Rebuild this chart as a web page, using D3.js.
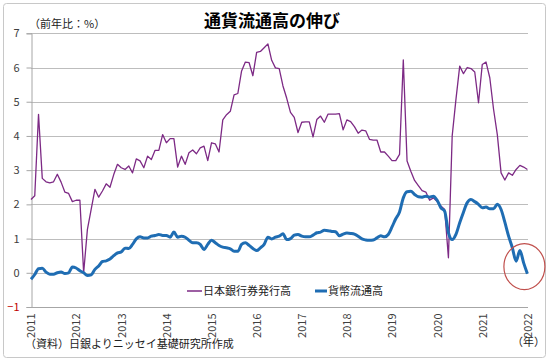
<!DOCTYPE html>
<html><head><meta charset="utf-8">
<script src="https://cdn.jsdelivr.net/npm/d3@7"></script>
<style>
html,body{margin:0;padding:0;background:#fff;}
svg{display:block;}
text{font-family:"Noto Sans CJK JP","Noto Sans",sans-serif;}
</style></head>
<body>
<svg id="c" width="550" height="362"></svg>
<script>
// Monthly series, Jan 2011 .. Jan 2022 (year-on-year %)
const yearLabels = ["2011","2012","2013","2014","2015","2016","2017","2018","2019","2020","2021","2022"];
const yTicks = [-1,0,1,2,3,4,5,6,7];
const seriesNames = ["日本銀行券発行高","貨幣流通高"];
const banknotes = [
 2.14,2.25,4.63,2.76,2.66,2.63,2.66,2.88,2.65,2.36,2.32,2.08,
 2.12,2.12,0.00,1.27,1.85,2.44,2.21,2.39,2.60,2.50,2.87,3.17,
 3.07,3.02,3.12,2.92,3.33,3.27,3.07,3.41,3.31,3.58,3.58,4.04,
 3.80,3.92,3.92,3.09,3.41,3.17,3.51,3.59,3.48,3.65,3.70,3.28,
 3.80,3.77,3.53,4.47,4.62,4.72,5.20,5.24,5.90,6.16,6.14,5.76,
 6.44,6.47,6.58,6.69,6.21,5.99,5.97,5.46,5.10,4.69,4.54,4.10,
 4.40,4.41,4.41,3.97,4.48,4.58,4.40,4.64,4.64,4.64,4.65,4.18,
 4.47,4.42,4.27,4.08,4.17,4.15,3.90,3.88,3.88,3.53,3.53,3.41,
 3.28,3.28,3.46,6.22,3.27,2.97,2.70,2.55,2.40,2.36,2.12,2.19,
 2.08,1.95,1.85,0.44,4.00,5.07,6.04,5.82,6.00,5.97,5.87,4.97,
 6.09,6.16,5.70,4.78,4.04,2.92,2.71,2.92,2.85,3.02,3.14,3.09,
 3.02
];
const coins = [
 -0.19,-0.05,0.12,0.13,0.02,-0.04,-0.04,0.00,0.02,-0.02,0.00,0.17,
 0.14,0.06,0.00,-0.08,-0.06,0.10,0.20,0.33,0.35,0.40,0.50,0.58,
 0.61,0.72,0.71,0.83,0.99,1.05,1.02,1.02,1.07,1.09,1.12,1.09,
 1.09,1.04,1.19,1.04,1.07,1.04,0.95,0.88,0.88,0.83,0.68,0.83,
 0.95,0.88,0.80,0.75,0.73,0.70,0.63,0.63,0.83,0.88,0.80,0.71,
 0.65,0.73,0.83,1.04,0.99,1.04,1.07,1.14,0.97,1.00,1.10,1.12,
 1.07,1.05,1.05,1.10,1.17,1.19,1.24,1.23,1.21,1.20,1.08,1.13,
 1.16,1.15,1.13,1.07,0.99,0.96,0.95,0.96,1.02,1.08,1.05,1.12,
 1.34,1.58,1.78,2.19,2.37,2.38,2.29,2.22,2.21,2.24,2.21,2.24,
 2.12,1.90,1.80,1.17,0.97,1.12,1.46,1.77,2.05,2.14,2.08,2.00,
 1.90,1.92,1.87,1.87,2.00,1.85,1.48,1.07,0.73,0.34,0.65,0.29,
 -0.03
];

const svg = d3.select("#c");
const L = 31, R = 528, T = 33.3, B = 307;
const x = d3.scaleLinear().domain([0, banknotes.length - 1]).range([L, 527.4]);
const y = d3.scaleLinear().domain([-1, 7]).range([B, T]);

// outer frame
svg.append("rect").attr("x",3.5).attr("y",3.5).attr("width",542).attr("height",354)
  .attr("rx",3).attr("fill","#fff").attr("stroke","#c8c8c8").attr("stroke-width",1);

// gridlines
svg.append("g").selectAll("line").data(yTicks.filter(d=>d>-1)).join("line")
  .attr("x1",L).attr("x2",R).attr("y1",d=>Math.round(y(d))+0.5).attr("y2",d=>Math.round(y(d))+0.5)
  .attr("stroke","#bdbdbd").attr("stroke-width",1);

// y axis
const yAxis = d3.axisLeft(y).tickValues(yTicks).tickSize(5).tickPadding(7).tickFormat(d3.format("d"));
const gy = svg.append("g").attr("transform",`translate(${L+0.5},0)`).call(yAxis);
gy.select(".domain").attr("stroke","#a6a6a6");
gy.selectAll(".tick line").attr("stroke","#a6a6a6");
gy.selectAll(".tick text").attr("font-size",11).attr("fill",d=>d<0?"#c00000":"#404040")
  .attr("font-family","'Liberation Sans',Arial,sans-serif");

// x axis (at -1)
const xAxis = d3.axisBottom(x).tickValues(yearLabels.map((d,i)=>i*12)).tickSize(0)
  .tickFormat((d,i)=>yearLabels[i]);
const gx = svg.append("g").attr("transform",`translate(0,${Math.round(B)+0.5})`).call(xAxis);
gx.select(".domain").attr("stroke","#a6a6a6").attr("d",`M${L},0H${R}`);
gx.selectAll(".tick text").attr("font-size",11).attr("fill","#404040")
  .attr("font-family","'Liberation Sans',Arial,sans-serif")
  .attr("text-anchor","end").attr("transform","rotate(-90)")
  .attr("x",-6).attr("y",0).attr("dy","0.35em");

// lines
const lineP = d3.line().x((d,i)=>x(i)).y(d=>y(d));
const lineB = d3.line().x((d,i)=>x(i)).y(d=>y(d)).curve(d3.curveMonotoneX);
svg.append("path").datum(banknotes).attr("d",lineP).attr("fill","none")
  .attr("stroke","#7d2a85").attr("stroke-width",1.3).attr("stroke-linejoin","round");
svg.append("path").datum(coins).attr("d",lineB).attr("fill","none")
  .attr("stroke","#1f6db3").attr("stroke-width",3).attr("stroke-linejoin","round");

// red circle highlight
svg.append("ellipse").attr("cx",x(coins.length-1)-3).attr("cy",y(0.18)).attr("rx",20.5).attr("ry",23)
  .attr("fill","none").attr("stroke","#c0504d").attr("stroke-width",1.2);

// title
svg.append("text").attr("x",272).attr("y",27).attr("text-anchor","middle")
  .attr("font-size",17).attr("font-weight","bold").attr("fill","#000").text("通貨流通高の伸び");
svg.append("text").attr("x",29).attr("y",28).attr("font-size",11).attr("fill","#222").text("（前年比：%）");

// legend
const lg = svg.append("g");
lg.append("line").attr("x1",187).attr("x2",202).attr("y1",291).attr("y2",291).attr("stroke","#7d2a85").attr("stroke-width",1.5);
lg.append("text").attr("x",203).attr("y",295).attr("font-size",11).attr("fill","#222").text(seriesNames[0]);
lg.append("line").attr("x1",315).attr("x2",327).attr("y1",291).attr("y2",291).attr("stroke","#1f6db3").attr("stroke-width",3);
lg.append("text").attr("x",328).attr("y",295).attr("font-size",11).attr("fill","#222").text(seriesNames[1]);

// source & unit
svg.append("text").attr("x",25).attr("y",348).attr("font-size",11).attr("fill","#222").text("（資料）日銀よりニッセイ基礎研究所作成");
svg.append("text").attr("x",545).attr("y",346).attr("text-anchor","end").attr("font-size",11).attr("fill","#222").text("（年）");
</script>
</body></html>
